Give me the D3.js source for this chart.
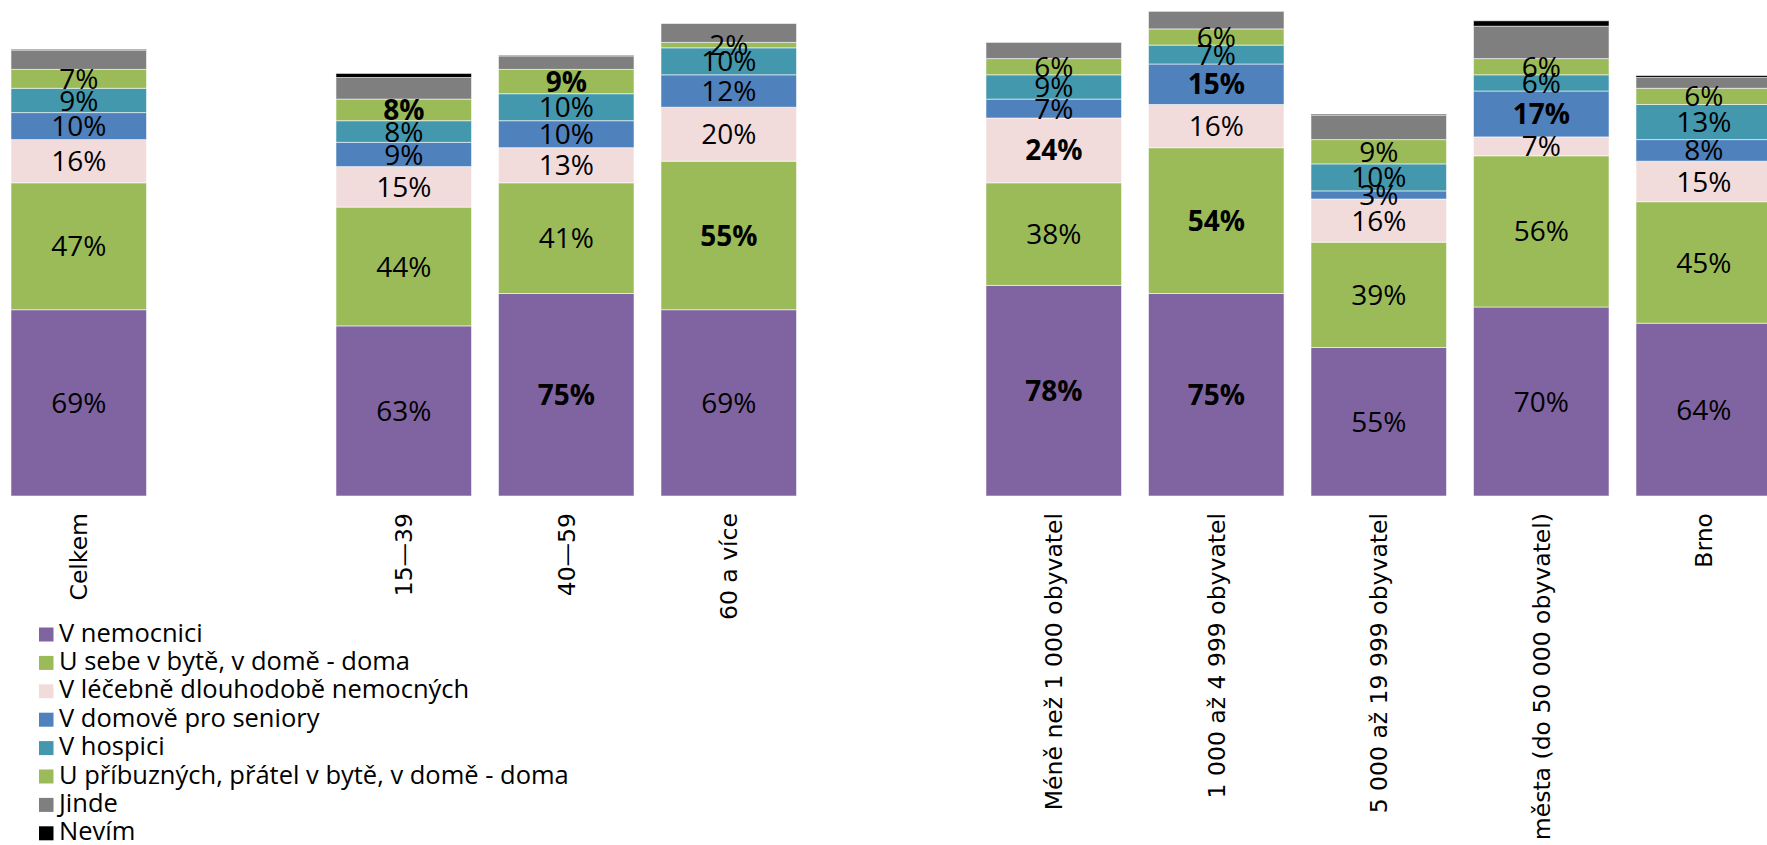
<!DOCTYPE html>
<html>
<head>
<meta charset="utf-8">
<script src="https://cdn.jsdelivr.net/npm/d3@7"></script>
<style>
  body { margin: 0; background: #fff; overflow: hidden; }
  svg { display: block; }
</style>
</head>
<body>
<div id="plot"></div>
<script>
// categories (null = empty slot between groups)
const slots = ["Celkem", null, "15\u201439", "40\u201459", "60 a více", null,
  "Méně než 1 000 obyvatel", "1 000 až 4 999 obyvatel", "5 000 až 19 999 obyvatel",
  "města (do 50 000 obyvatel)", "Brno"];

const seriesNames = ["V nemocnici", "U sebe v bytě, v domě - doma", "V léčebně dlouhodobě nemocných",
  "V domově pro seniory", "V hospici", "U příbuzných, přátel v bytě, v domě - doma", "Jinde", "Nevím"];

// values per slot, in %, null for empty slots
const vNemocnici   = [69, null, 63, 75, 69, null, 78, 75, 55, 70, 64];
const vDoma        = [47, null, 44, 41, 55, null, 38, 54, 39, 56, 45];
const vLecebna     = [16, null, 15, 13, 20, null, 24, 16, 16, 7, 15];
const vDomovSen    = [10, null, 9, 10, 12, null, 7, 15, 3, 17, 8];
const vHospic      = [9, null, 8, 10, 10, null, 9, 7, 10, 6, 13];
const vPribuzni    = [7, null, 8, 9, 2, null, 6, 6, 9, 6, 6];
const vJinde       = [7, null, 8, 5, 7, null, 6, 6.5, 9, 12, 4];
const vNevim       = [0.4, null, 1.5, 0.2, 0, null, 0, 0, 0.4, 2, 0.7];

// labels shown in bold: [slot label, series index]
const boldLabels = [["15\u201439", 5], ["40\u201459", 0], ["40\u201459", 5], ["60 a více", 1],
  ["Méně než 1 000 obyvatel", 0], ["Méně než 1 000 obyvatel", 2],
  ["1 000 až 4 999 obyvatel", 0], ["1 000 až 4 999 obyvatel", 1], ["1 000 až 4 999 obyvatel", 3],
  ["města (do 50 000 obyvatel)", 3]];

const labelledSeries = 6; // Jinde and Nevím carry no labels

const colors = ["#8064A2", "#9BBB59", "#F2DCDB", "#4F81BD", "#4398AE", "#9BBB59", "#7F7F7F", "#000000"];

const allValues = [vNemocnici, vDoma, vLecebna, vDomovSen, vHospic, vPribuzni, vJinde, vNevim];

const width = 1767, height = 845;

const svg = d3.select("#plot").append("svg")
    .attr("width", width)
    .attr("height", height);

// scales
const x = d3.scaleBand()
    .domain(d3.range(slots.length))
    .range([-2.5, -2.5 + 162.5 * slots.length])
    .paddingInner(0.166)
    .paddingOuter(0.083);

const y = d3.scaleLinear().domain([0, 180]).range([496, 10]);

const color = d3.scaleOrdinal().domain(d3.range(seriesNames.length)).range(colors);

// table for the stack
const table = slots.map((s, i) => {
  const row = { slot: i, name: s };
  allValues.forEach((arr, k) => { row[k] = arr[i] || 0; });
  return row;
}).filter(r => r.name !== null);

const stack = d3.stack().keys(d3.range(seriesNames.length));
const layers = stack(table);

const isBold = (name, k) => boldLabels.some(b => b[0] === name && b[1] === k);

const layer = svg.selectAll(".layer")
  .data(layers)
  .enter().append("g")
    .attr("class", "layer")
    .attr("fill", d => color(d.key));

layer.selectAll("rect")
  .data(d => d.filter(p => p[1] > p[0]))
  .enter().append("rect")
    .attr("x", d => x(d.data.slot))
    .attr("width", x.bandwidth())
    .attr("y", d => y(d[1]))
    .attr("height", d => y(d[0]) - y(d[1]))
    .attr("stroke", "rgba(255,255,255,0.55)")
    .attr("stroke-width", 1);

// value labels
layers.filter(l => l.key < labelledSeries).forEach(l => {
  svg.append("g").selectAll("text")
    .data(l)
    .enter().append("text")
      .attr("x", d => x(d.data.slot) + x.bandwidth() / 2)
      .attr("y", d => (y(d[0]) + y(d[1])) / 2)
      .attr("dy", "0.36em")
      .attr("text-anchor", "middle")
      .attr("font-family", "'Open Sans', sans-serif")
      .attr("font-size", "28px")
      .attr("font-weight", d => isBold(d.data.name, l.key) ? "bold" : "normal")
      .attr("fill", "#000")
      .text(d => `${d.data[l.key]}%`);
});

// category labels, rotated
svg.append("g").selectAll("text")
  .data(table)
  .enter().append("text")
    .attr("transform", d => `translate(${x(d.slot) + x.bandwidth() / 2},513) rotate(-90)`)
    .attr("dy", "0.36em")
    .attr("text-anchor", "end")
    .attr("font-family", "'DejaVu Sans', sans-serif")
    .attr("font-size", "23.5px")
    .attr("fill", "#000")
    .text(d => d.name);

// legend
const legend = svg.append("g").selectAll("g")
  .data(seriesNames)
  .enter().append("g")
    .attr("transform", (d, i) => `translate(39,${633 + i * 28.4})`);

legend.append("rect")
    .attr("x", 0)
    .attr("y", -5.5)
    .attr("width", 14.5)
    .attr("height", 14)
    .attr("fill", (d, i) => colors[i]);

legend.append("text")
    .attr("x", 20)
    .attr("dy", "0.34em")
    .attr("font-family", "'Open Sans', sans-serif")
    .attr("font-size", "25.5px")
    .attr("fill", "#000")
    .text(d => d);
</script>
</body>
</html>
